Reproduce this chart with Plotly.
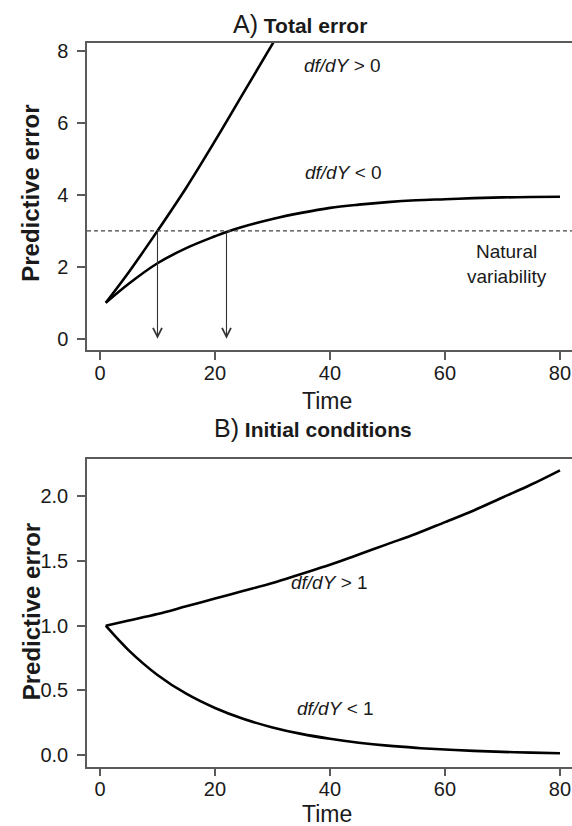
import plotly.graph_objects as go

# ---------------- data ----------------
time_pos = [1, 5, 10, 15, 20, 25, 30, 35]
total_pos = [1.0, 1.85, 3.0, 4.2, 5.5, 6.85, 8.2, 9.6]

time_neg = [1, 5, 10, 15, 20, 22, 25, 30, 35, 40, 45, 50, 55, 60, 65, 70, 75, 80]
total_neg = [1.0, 1.53, 2.1, 2.52, 2.85, 2.97, 3.12, 3.33, 3.5, 3.64, 3.73, 3.8,
             3.85, 3.88, 3.91, 3.93, 3.94, 3.95]

natural_variability = 3.0
crossing_times = [10, 22]

time_ic = [1, 5, 10, 15, 20, 25, 30, 35, 40, 45, 50, 55, 60, 65, 70, 75, 80]
ic_gt1 = [1.0, 1.04, 1.09, 1.15, 1.21, 1.27, 1.33, 1.40, 1.47, 1.55, 1.63, 1.71,
          1.80, 1.89, 1.99, 2.09, 2.20]
ic_lt1 = [1.0, 0.81, 0.62, 0.475, 0.365, 0.28, 0.215, 0.165, 0.127, 0.097, 0.074,
          0.057, 0.044, 0.034, 0.026, 0.02, 0.016]

x_ticks = [0, 20, 40, 60, 80]
yA_ticks = [0, 2, 4, 6, 8]
yB_ticks = [0.0, 0.5, 1.0, 1.5, 2.0]
yB_ticklabels = ["0.0", "0.5", "1.0", "1.5", "2.0"]

# ---------------- figure ----------------
W, H = 572, 826
FONT = "Liberation Sans, Arial, Helvetica, sans-serif"
AX = "#5a5a5a"
TXT = "#1a1a1a"

fig = go.Figure()
line = dict(color="black", width=2.6, shape="spline", smoothing=1.0)

fig.add_trace(go.Scatter(x=time_pos, y=total_pos, mode="lines", line=line,
                         xaxis="x", yaxis="y", showlegend=False, hoverinfo="skip"))
fig.add_trace(go.Scatter(x=time_neg, y=total_neg, mode="lines", line=line,
                         xaxis="x", yaxis="y", showlegend=False, hoverinfo="skip"))
fig.add_trace(go.Scatter(x=time_ic, y=ic_gt1, mode="lines", line=line,
                         xaxis="x2", yaxis="y2", showlegend=False, hoverinfo="skip"))
fig.add_trace(go.Scatter(x=time_ic, y=ic_lt1, mode="lines", line=line,
                         xaxis="x2", yaxis="y2", showlegend=False, hoverinfo="skip"))

xdom = [87 / W, 1.0]
yA_dom = [1 - 348.7 / H, 1 - 40 / H]
yB_dom = [1 - 766.5 / H, 1 - 457.3 / H]

common_axis = dict(showgrid=False, zeroline=False, showline=True, linecolor=AX,
                   linewidth=1.5, ticks="outside", ticklen=8, tickwidth=1.5,
                   tickcolor=AX, tickfont=dict(family=FONT, size=20, color=TXT))

fig.update_layout(
    width=W, height=H, margin=dict(l=0, r=0, t=0, b=0),
    paper_bgcolor="white", plot_bgcolor="white",
    xaxis=dict(domain=xdom, anchor="y", range=[-2.26, 82.09], tickvals=x_ticks,
               mirror=True, ticklabelstandoff=-4, **common_axis),
    yaxis=dict(domain=yA_dom, anchor="x", range=[-0.324, 8.227], tickvals=yA_ticks,
               ticklabelstandoff=5, **common_axis),
    xaxis2=dict(domain=xdom, anchor="y2", range=[-2.26, 82.09], tickvals=x_ticks,
                mirror=True, ticklabelstandoff=-4, **common_axis),
    yaxis2=dict(domain=yB_dom, anchor="x2", range=[-0.0885, 2.29], tickvals=yB_ticks,
                ticktext=yB_ticklabels, ticklabelstandoff=5, **common_axis),
)

# natural variability dashed line
fig.add_shape(type="line", xref="x domain", yref="y", x0=0, x1=1,
              y0=natural_variability, y1=natural_variability,
              line=dict(color="#444", width=1.3, dash="4px,3px"))

annotations = []
# arrows
for t in crossing_times:
    annotations.append(dict(x=t, y=0, ax=t, ay=natural_variability, xref="x", yref="y",
                            axref="x", ayref="y", text="", showarrow=True,
                            arrowhead=5, arrowsize=1.6, arrowwidth=1.1,
                            arrowcolor="#333", standoff=0, startstandoff=0))

def txt(text, x, y, xref, yref, size=19, xanchor="center", yanchor="middle",
        angle=0, color=TXT):
    annotations.append(dict(text=text, x=x, y=y, xref=xref, yref=yref,
                            xanchor=xanchor, yanchor=yanchor, showarrow=False,
                            textangle=angle, font=dict(family=FONT, size=size, color=color)))

# titles
txt('<span style="font-size:25px">A)</span> <b>Total error</b>', 300 / W, 1 - 21 / H,
    "paper", "paper", size=21)
txt('<span style="font-size:25px">B)</span> <b>Initial conditions</b>', 313 / W,
    1 - 427 / H, "paper", "paper", size=21)

# axis titles
txt("Time", 327 / W, 1 - 399 / H, "paper", "paper", size=23)
txt("Time", 327 / W, 1 - 814 / H, "paper", "paper", size=23)
txt("<b>Predictive error</b>", 31 / W, 1 - 191.5 / H, "paper", "paper", size=24, angle=-90)
txt("<b>Predictive error</b>", 31 / W, 1 - 611.5 / H, "paper", "paper", size=24, angle=-90)

# curve labels
txt("<i>df/dY</i> &gt; 0", 35.1, 7.59, "x", "y", xanchor="left")
txt("<i>df/dY</i> &lt; 0", 35.3, 4.63, "x", "y", xanchor="left")
txt("Natural<br>variability", 70.7, 2.09, "x", "y")
txt("<i>df/dY</i> &gt; 1", 32.9, 1.33, "x2", "y2", xanchor="left")
txt("<i>df/dY</i> &lt; 1", 33.9, 0.36, "x2", "y2", xanchor="left")

fig.update_layout(annotations=annotations)

fig.write_html("out.html")
